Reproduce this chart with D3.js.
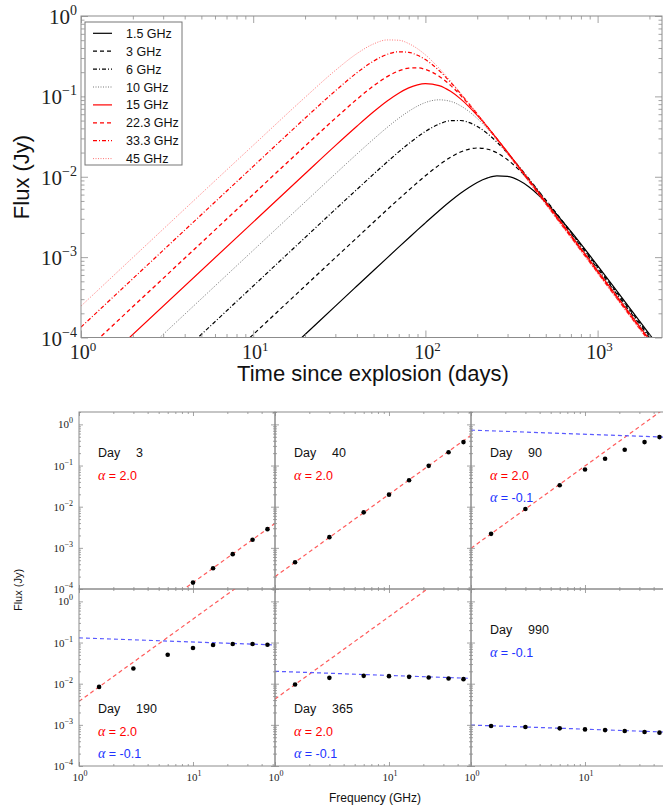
<!DOCTYPE html>
<html><head><meta charset="utf-8">
<script src="https://cdn.jsdelivr.net/npm/d3@7"></script>
<style>body{margin:0;background:#fff}svg{display:block}</style>
</head><body>
<svg id="chart" width="663" height="807"></svg>
<script>
// ---------------- DATA ----------------
const timeDays = [1,10,20,30,40,50,60,70,80,90,100,120,140,160,180,200,230,260,300,350,400,450,500,600,700,1000,1500,2500];
const seriesLabels = ["1.5 GHz","3 GHz","6 GHz","10 GHz","15 GHz","22.3 GHz","33.3 GHz","45 GHz"];
const flux_1_5 = [2.73e-7,2.73e-5,1.09e-4,2.46e-4,4.37e-4,6.82e-4,9.80e-4,1.33e-3,1.73e-3,2.18e-3,2.67e-3,3.78e-3,4.99e-3,6.23e-3,7.42e-3,8.50e-3,9.68e-3,1.025e-2,1.011e-2,8.96e-3,7.46e-3,6.02e-3,4.81e-3,3.11e-3,2.09e-3,7.84e-4,2.49e-4,5.83e-5];
const flux_3 = [1.09e-6,1.09e-4,4.37e-4,9.82e-4,1.74e-3,2.72e-3,3.90e-3,5.26e-3,6.80e-3,8.49e-3,1.028e-2,1.397e-2,1.748e-2,2.03e-2,2.21e-2,2.28e-2,2.20e-2,1.986e-2,1.627e-2,1.216e-2,9.01e-3,6.74e-3,5.14e-3,3.15e-3,2.05e-3,7.53e-4,2.38e-4,5.56e-5];
const flux_6 = [4.37e-6,4.37e-4,1.75e-3,3.93e-3,6.95e-3,1.078e-2,1.529e-2,2.04e-2,2.58e-2,3.13e-2,3.66e-2,4.52e-2,4.98e-2,5.01e-2,4.71e-2,4.23e-2,3.42e-2,2.70e-2,1.955e-2,1.333e-2,9.38e-3,6.81e-3,5.09e-3,3.06e-3,1.98e-3,7.20e-4,2.27e-4,5.29e-5];
const flux_10 = [1.214e-5,1.214e-3,4.85e-3,1.087e-2,1.916e-2,2.94e-2,4.11e-2,5.34e-2,6.52e-2,7.57e-2,8.38e-2,9.06e-2,8.67e-2,7.64e-2,6.44e-2,5.31e-2,3.92e-2,2.93e-2,2.03e-2,1.340e-2,9.27e-3,6.69e-3,4.97e-3,2.97e-3,1.92e-3,6.95e-4,2.19e-4,5.11e-5];
const flux_15 = [2.73e-5,2.73e-3,1.090e-2,2.44e-2,4.25e-2,6.43e-2,8.76e-2,0.1097,0.1276,0.1393,0.1440,0.1361,0.1155,9.30e-2,7.35e-2,5.79e-2,4.10e-2,2.98e-2,2.02e-2,1.322e-2,9.11e-3,6.54e-3,4.85e-3,2.89e-3,1.87e-3,6.76e-4,2.13e-4,4.96e-5];
const flux_22_3 = [6.04e-5,6.04e-3,2.41e-2,5.34e-2,9.20e-2,0.1351,0.1762,0.2075,0.2244,0.2265,0.2165,0.1783,0.1370,0.1031,7.81e-2,5.99e-2,4.15e-2,2.97e-2,2.00e-2,1.298e-2,8.91e-3,6.38e-3,4.73e-3,2.82e-3,1.82e-3,6.58e-4,2.07e-4,4.83e-5];
const flux_33_3 = [1.346e-4,1.346e-2,5.35e-2,0.1173,0.1965,0.2750,0.3334,0.3588,0.3530,0.3246,0.2867,0.2099,0.1500,0.1083,7.99e-2,6.04e-2,4.11e-2,2.93e-2,1.960e-2,1.268e-2,8.69e-3,6.21e-3,4.60e-3,2.74e-3,1.77e-3,6.39e-4,2.01e-4,4.70e-5];
const flux_45 = [2.46e-4,2.46e-2,9.72e-2,0.2104,0.3403,0.4493,0.5037,0.4994,0.4538,0.3915,0.3283,0.2244,0.1549,0.1097,8.01e-2,5.99e-2,4.07e-2,2.88e-2,1.925e-2,1.244e-2,8.51e-3,6.10e-3,4.51e-3,2.68e-3,1.73e-3,6.26e-4,1.97e-4,4.60e-5];
const lightCurves = [flux_1_5, flux_3, flux_6, flux_10, flux_15, flux_22_3, flux_33_3, flux_45];

const topXTickExponents = [0,1,2,3];
const topYTickExponents = [0,-1,-2,-3,-4];

const spectrumFreqGHz = [1.5,3,6,10,15,22.3,33.3,45];
const spectrumDays = [3,40,90,190,365,990];
const specDay3   = [3.2e-6,1.3e-5,5.1e-5,1.43e-4,3.19e-4,7.02e-4,1.57e-3,2.85e-3];
const specDay40  = [4.48e-4,1.82e-3,7.28e-3,1.96e-2,4.39e-2,9.82e-2,0.211,0.371];
const specDay90  = [2.19e-3,8.77e-3,3.31e-2,7.98e-2,0.146,0.241,0.371,0.491];
const specDay190 = [8.36e-3,2.34e-2,5.05e-2,7.35e-2,8.69e-2,9.18e-2,9.18e-2,8.85e-2];
const specDay365 = [9.55e-3,1.387e-2,1.552e-2,1.524e-2,1.466e-2,1.413e-2,1.337e-2,1.288e-2];
const specDay990 = [9.35e-4,8.85e-4,8.22e-4,7.76e-4,7.46e-4,7.06e-4,6.68e-4,6.46e-4];
const spectra = [specDay3, specDay40, specDay90, specDay190, specDay365, specDay990];
const thickIndex = 2.0, thinIndex = -0.1;
const thickNormAt1GHz = [1.43e-6,1.99e-4,9.75e-4,3.72e-3,4.25e-3,null];
const thinNormAt1GHz  = [null,null,0.726,0.130,0.0200,9.89e-4];
const bottomXTickExponents = [0,1];
const bottomYTickExponents = [0,-1,-2,-3,-4];

// ---------------- STYLE ----------------
const sans = "'Liberation Sans', Arial, Helvetica, sans-serif";
const serif = "'Liberation Serif', 'Times New Roman', serif";
const frameColor = "#8c8c8c";
const seriesStyles = [
  {c:"#000", d:null, w:1.2},
  {c:"#000", d:"4,3", w:1.2},
  {c:"#000", d:"4,2,1,2", w:1.2},
  {c:"#777", d:"1,1.5", w:1},
  {c:"#f00", d:null, w:1.2},
  {c:"#f00", d:"4,3", w:1.3},
  {c:"#f00", d:"4,2,1,2", w:1.2},
  {c:"#f77", d:"1,1.5", w:1}
];

const svg = d3.select("#chart");
svg.append("rect").attr("width",663).attr("height",807).attr("fill","#fff");

function logTickValues(lo, hi){
  const major=[], minor=[];
  for(let k=Math.floor(Math.log10(lo)); k<=Math.ceil(Math.log10(hi)); k++){
    for(let m=1;m<10;m++){
      const v=m*Math.pow(10,k);
      if(v<lo*0.9999||v>hi*1.0001) continue;
      (m===1?major:minor).push(v);
    }
  }
  return {major,minor};
}
function inwardTicks(g, xs, ys, majLen, minLen){
  const [x0,x1]=xs.range(), [yb,yt]=ys.range();
  const xt=logTickValues(...xs.domain()), yt2=logTickValues(...ys.domain());
  const specs=[
    [d3.axisBottom, xs, `translate(0,${yb})`, xt],
    [d3.axisTop, xs, `translate(0,${yt})`, xt],
    [d3.axisLeft, ys, `translate(${x0},0)`, yt2],
    [d3.axisRight, ys, `translate(${x1},0)`, yt2]
  ];
  specs.forEach(([fn,sc,tr,tv])=>{
    [[tv.major,majLen],[tv.minor,minLen]].forEach(([vals,len])=>{
      const a=g.append("g").attr("transform",tr)
        .call(fn(sc).tickValues(vals).tickSize(-len).tickFormat(""));
      a.select(".domain").remove();
      a.selectAll("line").attr("stroke",frameColor).attr("stroke-width",0.8);
    });
  });
  g.append("rect").attr("x",x0).attr("y",yt).attr("width",x1-x0).attr("height",yb-yt)
    .attr("fill","none").attr("stroke",frameColor).attr("stroke-width",1);
}
function powLabel(g, x, y, exp, anchor, size, supSize, dy){
  const t=g.append("text").attr("x",x).attr("y",y).attr("text-anchor",anchor)
    .attr("font-family",serif).attr("font-size",size).attr("fill","#222");
  t.append("tspan").text("10");
  t.append("tspan").attr("font-size",supSize).attr("dy",dy).text(exp<0?"\u2212"+(-exp):String(exp));
}

// ---------------- TOP PANEL ----------------
const tx = d3.scaleLog().domain([1,2366]).range([81,662]);
const ty = d3.scaleLog().domain([1e-4,1]).range([337.5,16]);
const topG = svg.append("g");
topG.append("clipPath").attr("id","clipTop").append("rect")
  .attr("x",81).attr("y",16).attr("width",581).attr("height",321.5);
const line = d3.line().x(d=>tx(d[0])).y(d=>ty(d[1])).curve(d3.curveMonotoneX);
const curvesG = topG.append("g").attr("clip-path","url(#clipTop)");
lightCurves.forEach((fl,i)=>{
  const st=seriesStyles[i];
  curvesG.append("path").datum(timeDays.map((t,j)=>[t,fl[j]]))
    .attr("d",line).attr("fill","none").attr("stroke",st.c)
    .attr("stroke-width",st.w).attr("stroke-dasharray",st.d);
});
inwardTicks(topG, tx, ty, 7, 3.5);
topXTickExponents.forEach(e=>powLabel(topG, tx(Math.pow(10,e))+2, 359, e, "middle", 20, 13, -8));
topYTickExponents.forEach(e=>powLabel(topG, 77, ty(Math.pow(10,e))+8, e, "end", 21, 14, -9));
topG.append("text").attr("x",373).attr("y",381).attr("text-anchor","middle")
  .attr("font-family",sans).attr("font-size",22).attr("fill","#111").text("Time since explosion (days)");
topG.append("text").attr("transform","translate(29,177) rotate(-90)").attr("text-anchor","middle")
  .attr("font-family",sans).attr("font-size",22).attr("fill","#111").text("Flux (Jy)");

// legend
const lg = topG.append("g");
lg.append("rect").attr("x",85).attr("y",22).attr("width",97).attr("height",143)
  .attr("fill","#fff").attr("stroke","#777").attr("stroke-width",1);
seriesLabels.forEach((lab,i)=>{
  const yy=33.3+i*17.9, st=seriesStyles[i];
  lg.append("line").attr("x1",93).attr("x2",112).attr("y1",yy).attr("y2",yy)
    .attr("stroke",st.c).attr("stroke-width",st.w).attr("stroke-dasharray",st.d);
  lg.append("text").attr("x",126).attr("y",yy+4.5).attr("font-family",sans)
    .attr("font-size",12.5).attr("fill","#111").text(lab);
});

// ---------------- BOTTOM PANELS ----------------
const colLeft=[79,275,471], rowTop=[412,589], pw=196, ph=177;
spectrumDays.forEach((day,p)=>{
  const r=Math.floor(p/3), c=p%3;
  const x0=colLeft[c], y0=rowTop[r];
  const bx=d3.scaleLog().domain([1,52.4]).range([x0,x0+pw]);
  const by=d3.scaleLog().domain([1e-4,2]).range([y0+ph,y0]);
  const g=svg.append("g");
  g.append("clipPath").attr("id","clipP"+p).append("rect")
    .attr("x",x0).attr("y",y0).attr("width",pw).attr("height",ph);
  const inner=g.append("g").attr("clip-path",`url(#clipP${p})`);
  const fl=d3.line().x(d=>bx(d[0])).y(d=>by(d[1]));
  if(thickNormAt1GHz[p]!==null){
    inner.append("path").datum([[1,thickNormAt1GHz[p]],[52.4,thickNormAt1GHz[p]*Math.pow(52.4,thickIndex)]])
      .attr("d",fl).attr("fill","none").attr("stroke","#ff5a5a").attr("stroke-width",1.2).attr("stroke-dasharray","4,3");
  }
  if(thinNormAt1GHz[p]!==null){
    inner.append("path").datum([[1,thinNormAt1GHz[p]],[52.4,thinNormAt1GHz[p]*Math.pow(52.4,thinIndex)]])
      .attr("d",fl).attr("fill","none").attr("stroke","#5a5aff").attr("stroke-width",1.2).attr("stroke-dasharray","4,3");
  }
  inner.selectAll("circle.pt").data(spectrumFreqGHz.map((f,j)=>[f,spectra[p][j]]).filter(d=>d[1]>=1e-4))
    .enter().append("circle").attr("cx",d=>bx(d[0])).attr("cy",d=>by(d[1])).attr("r",2.3).attr("fill","#000");
  inwardTicks(g, bx, by, 4, 2);
  const lowText = (day===190||day===365);
  const base = lowText ? y0+124 : y0+45;
  g.append("text").attr("x",x0+19).attr("y",base).attr("font-family",sans).attr("font-size",12.5).attr("fill","#111").text("Day");
  g.append("text").attr("x",x0+57).attr("y",base).attr("font-family",sans).attr("font-size",12.5).attr("fill","#111").text(String(day));
  let ln=1;
  const alphaText=(val,color)=>{
    const t=g.append("text").attr("x",x0+19).attr("y",base+22.5*ln).attr("font-family",sans).attr("font-size",12.5).attr("fill",color);
    t.append("tspan").attr("font-family",serif).attr("font-style","italic").attr("font-size",14).text("\u03b1");
    t.append("tspan").text(" = "+val.toFixed(1));
    ln++;
  };
  if(thickNormAt1GHz[p]!==null) alphaText(thickIndex,"#f00");
  if(thinNormAt1GHz[p]!==null) alphaText(thinIndex,"#2233ff");
  if(c===0) bottomYTickExponents.forEach(e=>powLabel(g, 73, by(Math.pow(10,e))+4, e, "end", 11, 8, -5));
  if(r===1) bottomXTickExponents.forEach(e=>powLabel(g, bx(Math.pow(10,e))+1, 781, e, "middle", 11, 8, -5));
});
svg.append("text").attr("x",375).attr("y",802).attr("text-anchor","middle").attr("font-family",sans)
  .attr("font-size",12).attr("fill","#111").text("Frequency (GHz)");
svg.append("text").attr("transform","translate(22,590) rotate(-90)").attr("text-anchor","middle").attr("font-family",sans)
  .attr("font-size",11).attr("fill","#111").text("Flux (Jy)");
</script>
</body></html>
